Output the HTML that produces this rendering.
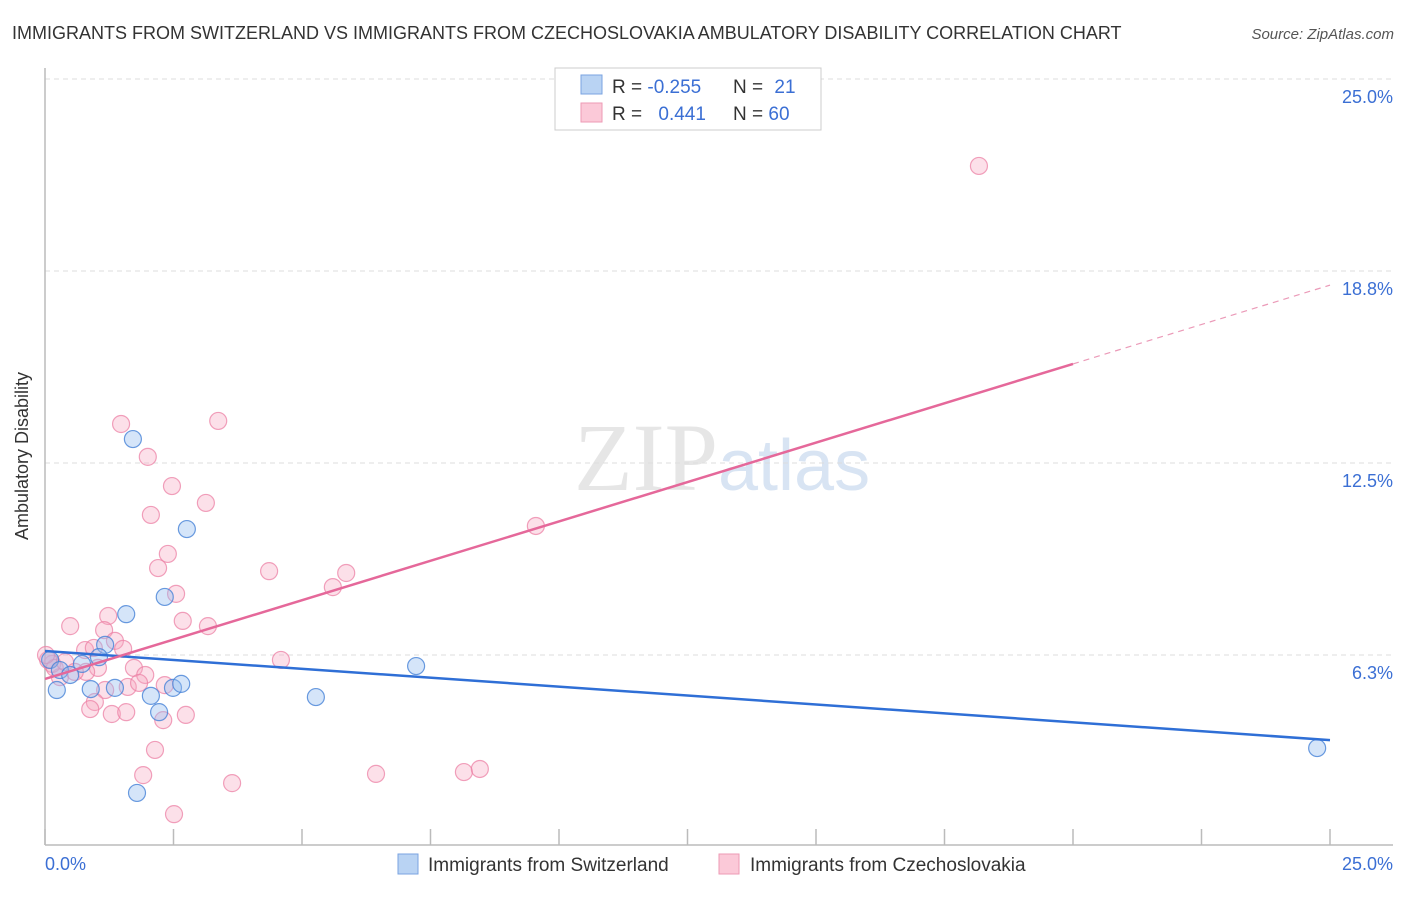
<!DOCTYPE html>
<html><head><meta charset="utf-8"><style>
body{margin:0;background:#fff;font-family:"Liberation Sans",sans-serif;}
</style></head><body>
<svg width="1406" height="892" viewBox="0 0 1406 892" xmlns="http://www.w3.org/2000/svg">
<text x="12" y="39" font-size="18" fill="#333">IMMIGRANTS FROM SWITZERLAND VS IMMIGRANTS FROM CZECHOSLOVAKIA AMBULATORY DISABILITY CORRELATION CHART</text>
<text x="1394" y="39" font-size="15" fill="#555" font-style="italic" text-anchor="end">Source: ZipAtlas.com</text>
<text x="718" y="490" font-size="96" fill="#e6e6e6" font-family="Liberation Serif" text-anchor="end">ZIP</text>
<text x="718" y="490" font-size="72" fill="#d8e4f3">atlas</text>
<g id="grid"></g>
<line x1="45" y1="68" x2="45" y2="845" stroke="#bbb" stroke-width="1.5"/>
<line x1="45" y1="845" x2="1393" y2="845" stroke="#bbb" stroke-width="1.5"/>
<g id="xticks"></g>
<text x="28" y="456" font-size="18" fill="#333" text-anchor="middle" transform="rotate(-90 28 456)">Ambulatory Disability</text>
<text x="45" y="870" font-size="18" fill="#3b6fd4">0.0%</text>
<text x="1393" y="870" font-size="18" fill="#3b6fd4" text-anchor="end">25.0%</text>
<g id="points"></g>
<g id="trends"></g>
<g>
<rect x="555" y="68" width="266" height="62" fill="#fff" stroke="#ccc"/>
<rect x="581" y="75" width="21" height="19" fill="#b9d3f3" stroke="#7aa3e0"/>
<rect x="581" y="103" width="21" height="19" fill="#fbc9d8" stroke="#ee9ab5"/>
<text x="612" y="93" font-size="19" fill="#333">R = <tspan fill="#3b6fd4">-0.255</tspan></text>
<text x="733" y="93" font-size="19" fill="#333">N = <tspan fill="#3b6fd4" dx="6">21</tspan></text>
<text x="612" y="120" font-size="19" fill="#333">R = <tspan fill="#3b6fd4" dx="11">0.441</tspan></text>
<text x="733" y="120" font-size="19" fill="#333">N = <tspan fill="#3b6fd4">60</tspan></text>
</g>
<g>
<rect x="398" y="854" width="20" height="20" fill="#b9d3f3" stroke="#7aa3e0"/>
<text x="428" y="871" font-size="19" fill="#333">Immigrants from Switzerland</text>
<rect x="719" y="854" width="20" height="20" fill="#fbc9d8" stroke="#ee9ab5"/>
<text x="750" y="871" font-size="19" fill="#333">Immigrants from Czechoslovakia</text>
</g>
</svg>
<script>
const yTicks=[6.25,12.5,18.75,25];
const yTickLabels=["6.3%","12.5%","18.8%","25.0%"];
const xTicks=[0,2.5,5,7.5,10,12.5,15,17.5,20,22.5,25];
const blueX=[1.71,2.76,1.58,2.33,1.17,1.05,0.72,0.23,0.89,1.36,2.06,2.49,2.65,2.22,1.79,5.27,7.22,24.75,0.10,0.29,0.49];
const blueY=[13.28,10.35,7.58,8.14,6.58,6.18,5.96,5.11,5.14,5.18,4.92,5.18,5.31,4.39,1.76,4.88,5.89,3.22,6.09,5.76,5.60];
const pinkX=[18.17,9.55,3.37,1.48,2.00,2.47,3.13,2.06,2.39,2.20,4.36,5.86,5.60,2.55,1.23,0.49,2.68,3.17,1.15,1.36,1.52,0.78,0.95,4.59,1.73,1.03,0.80,1.95,0.29,0.14,2.33,1.61,1.17,1.83,0.97,0.88,1.30,1.58,2.74,2.30,2.14,1.91,3.64,6.44,8.15,8.46,2.51,0.06,0.19,0.39,0.58,0.02];
const pinkY=[22.17,10.45,13.87,13.77,12.70,11.75,11.20,10.81,9.54,9.08,8.98,8.92,8.46,8.24,7.52,7.19,7.36,7.19,7.06,6.71,6.45,6.41,6.48,6.09,5.83,5.83,5.70,5.60,5.53,5.96,5.27,5.21,5.11,5.34,4.72,4.49,4.33,4.39,4.30,4.13,3.16,2.34,2.08,2.38,2.44,2.54,1.07,6.09,5.83,6.02,5.70,6.25];
const blueTrend=[6.38,3.48];   // y at x=0 and x=25
const pinkTrend=[5.47,18.29];  // y at x=0 and x=25
const pinkSolidEnd=20;
const NS="http://www.w3.org/2000/svg";
const xs=v=>45+v*51.4;
const ys=v=>847-v*30.72;
function mk(tag,attrs,parent){const e=document.createElementNS(NS,tag);for(const k in attrs)e.setAttribute(k,attrs[k]);parent.appendChild(e);return e;}
const grid=document.getElementById('grid');
yTicks.forEach((t,i)=>{
  const l=mk('line',{x1:45,x2:1393,y1:ys(t),y2:ys(t),stroke:'#ddd','stroke-dasharray':'5,4'},grid);
  
  
  const tx=mk('text',{x:1393,y:ys(t)+24,'font-size':18,fill:'#3b6fd4','text-anchor':'end'},grid);
  tx.textContent=yTickLabels[i];
  
  
});
const xt=document.getElementById('xticks');
xTicks.forEach(t=>{
  const l=mk('line',{x1:xs(t),x2:xs(t),y1:829,y2:845,stroke:'#bbb','stroke-width':1.5},xt);
  
  
});
const pts=document.getElementById('points');
pinkX.forEach((x,i)=>{
  const c=mk('circle',{cx:xs(x),cy:ys(pinkY[i]),r:8.5,fill:'rgba(247,166,192,0.35)',stroke:'rgba(236,130,165,0.75)','stroke-width':1.2},pts);
  
  
});
blueX.forEach((x,i)=>{
  const c=mk('circle',{cx:xs(x),cy:ys(blueY[i]),r:8.5,fill:'rgba(150,190,240,0.4)',stroke:'rgba(70,130,215,0.8)','stroke-width':1.2},pts);
  
  
});
const tr=document.getElementById('trends');
const pAt=x=>pinkTrend[0]+(pinkTrend[1]-pinkTrend[0])*x/25;
let l1=mk('line',{x1:xs(0),y1:ys(blueTrend[0]),x2:xs(25),y2:ys(blueTrend[1]),stroke:'#2f6fd6','stroke-width':2.5},tr);


let l2=mk('line',{x1:xs(0),y1:ys(pAt(0)),x2:xs(pinkSolidEnd),y2:ys(pAt(pinkSolidEnd)),stroke:'#e5689a','stroke-width':2.5},tr);


let l3=mk('line',{x1:xs(pinkSolidEnd),y1:ys(pAt(pinkSolidEnd)),x2:xs(25),y2:ys(pAt(25)),stroke:'#eb9ab8','stroke-width':1.2,'stroke-dasharray':'6,5'},tr);


</script>
</body></html>
